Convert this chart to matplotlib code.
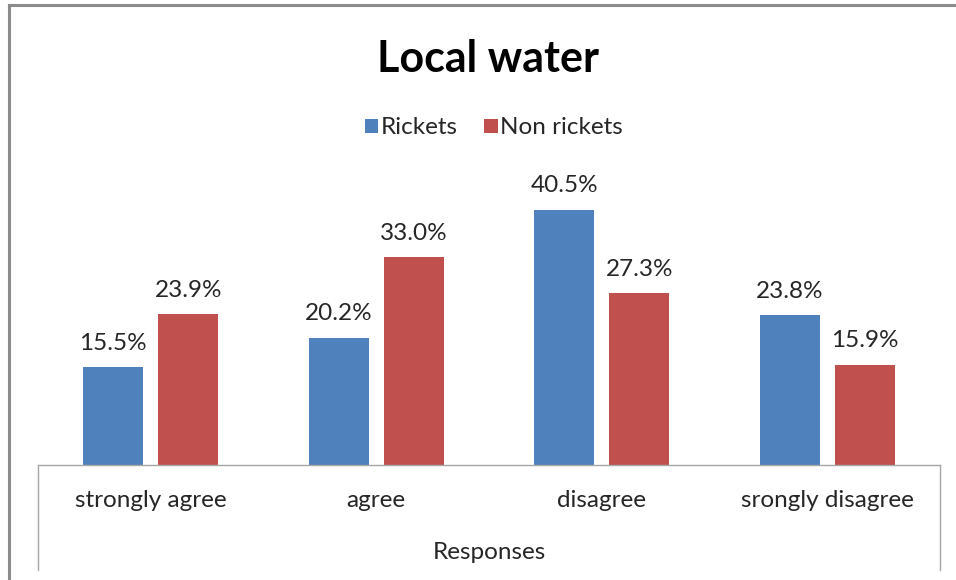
import matplotlib
matplotlib.use("Agg")
import matplotlib.pyplot as plt
from matplotlib.lines import Line2D
from matplotlib.transforms import blended_transform_factory
import numpy as np

categories = ["strongly agree", "agree", "disagree", "srongly disagree"]
rickets = [15.5, 20.2, 40.5, 23.8]
non_rickets = [23.9, 33.0, 27.3, 15.9]
series_names = ["Rickets", "Non rickets"]

BLUE = "#4F81BD"
RED = "#C0504D"
TEXT = "#262626"
GRID = "#A6A6A6"

plt.rcParams["font.family"] = ["Lato", "DejaVu Sans"]

W, H = 956, 580
fig = plt.figure(figsize=(W / 100, H / 100), dpi=100)

def fx(px):
    return px / W

def fy(py):
    return 1 - py / H

# plot area: baseline at y=465, category axis from x=38 to x=940
ax = fig.add_axes([fx(38), fy(465), fx(940) - fx(38), fy(181.5) - fy(465)])

x = np.arange(len(categories))
bw = 0.266
off = 0.166
b1 = ax.bar(x - off, rickets, bw, color=BLUE, label=series_names[0])
b2 = ax.bar(x + off, non_rickets, bw, color=RED, label=series_names[1])

for bars, vals in ((b1, rickets), (b2, non_rickets)):
    for rect, v in zip(bars, vals):
        ax.annotate(f"{v:.1f}%", (rect.get_x() + rect.get_width() / 2, v),
                    xytext=(0, 12.5), textcoords="offset points",
                    ha="center", va="baseline", fontsize=17.5, color=TEXT)

ax.set_xlim(-0.5, len(categories) - 0.5)
ax.set_ylim(0, 45)
ax.set_yticks([])
ax.set_xticks([])
for s in ("left", "right", "top"):
    ax.spines[s].set_visible(False)
ax.spines["bottom"].set_color(GRID)
ax.spines["bottom"].set_linewidth(1.0)
ax.patch.set_alpha(0)

# category names below the axis
cat_tr = blended_transform_factory(ax.transData, fig.transFigure)
for xi, name in zip(x, categories):
    ax.text(xi, fy(507), name, transform=cat_tr, ha="center", va="baseline",
            fontsize=17.5, color=TEXT)

# category axis side walls
for px in (38, 940):
    fig.add_artist(Line2D([fx(px), fx(px)], [fy(465), fy(570)],
                          transform=fig.transFigure, color=GRID, lw=1.0))

# chart frame
fig.add_artist(Line2D([fx(8.5), fx(8.5)], [fy(5), 0], transform=fig.transFigure,
                      color="#8C8C8C", lw=2.2))
fig.add_artist(Line2D([fx(8.5), 1], [fy(5), fy(5)], transform=fig.transFigure,
                      color="#8C8C8C", lw=2.2))

fig.text(fx(488), fy(72), "Local water", ha="center", va="baseline",
         fontsize=31, fontweight="bold", color="black")
fig.text(fx(489), fy(559), "Responses", ha="center", va="baseline",
         fontsize=17.5, color=TEXT)

leg = fig.legend(handles=[b1, b2], labels=series_names, loc="center",
                 bbox_to_anchor=(fx(494), fy(128)), ncol=2, frameon=False,
                 fontsize=17.5, handlelength=0.55, handleheight=0.55,
                 handletextpad=0.1, columnspacing=1.1, labelcolor=TEXT)

fig.savefig("out.png", dpi=100, facecolor="white")
